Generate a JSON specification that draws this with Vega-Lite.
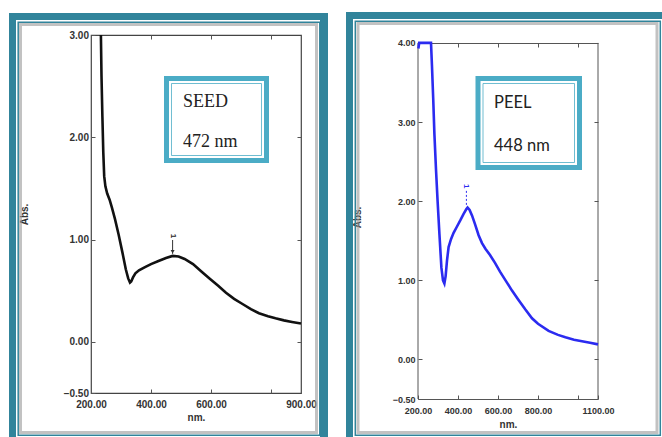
{
  "$schema": "https://vega.github.io/schema/vega-lite/v6.json",
  "background": "white",
  "padding": {"left": 8, "top": 11, "right": 0, "bottom": 0},
  "spacing": 17,
  "config": {
    "view": {"stroke": null},
    "axis": {"grid": false, "labelFont": "Liberation Sans", "labelFontWeight": "bold", "labelColor": "#333", "titleFont": "Liberation Sans", "titleFontWeight": "bold", "titleColor": "#333", "titleFontSize": 10, "labelFlush": false, "labelOverlap": false, "tickColor": "#555", "domainColor": "#555", "tickSize": -4}
  },
  "datasets": {
    "seed": [
      {"wl": 233, "abs": 3.0}, {"wl": 235, "abs": 2.6}, {"wl": 238, "abs": 2.2}, {"wl": 241, "abs": 1.85},
      {"wl": 244, "abs": 1.62}, {"wl": 248, "abs": 1.52}, {"wl": 254, "abs": 1.45}, {"wl": 262, "abs": 1.39},
      {"wl": 270, "abs": 1.31}, {"wl": 280, "abs": 1.2}, {"wl": 292, "abs": 1.05}, {"wl": 305, "abs": 0.87},
      {"wl": 316, "abs": 0.71}, {"wl": 324, "abs": 0.62}, {"wl": 330, "abs": 0.58}, {"wl": 334, "abs": 0.59},
      {"wl": 340, "abs": 0.63}, {"wl": 348, "abs": 0.67}, {"wl": 360, "abs": 0.7}, {"wl": 380, "abs": 0.73},
      {"wl": 400, "abs": 0.76}, {"wl": 425, "abs": 0.79}, {"wl": 450, "abs": 0.82}, {"wl": 472, "abs": 0.84},
      {"wl": 492, "abs": 0.835}, {"wl": 512, "abs": 0.81}, {"wl": 540, "abs": 0.76}, {"wl": 567, "abs": 0.69},
      {"wl": 595, "abs": 0.62}, {"wl": 623, "abs": 0.55}, {"wl": 650, "abs": 0.48}, {"wl": 677, "abs": 0.42},
      {"wl": 705, "abs": 0.37}, {"wl": 733, "abs": 0.32}, {"wl": 760, "abs": 0.28}, {"wl": 790, "abs": 0.25},
      {"wl": 815, "abs": 0.23}, {"wl": 843, "abs": 0.21}, {"wl": 870, "abs": 0.195}, {"wl": 900, "abs": 0.18}
    ],
    "peel": [
      {"wl": 202, "abs": 3.93}, {"wl": 206, "abs": 4.0}, {"wl": 265, "abs": 4.0}, {"wl": 270, "abs": 3.7},
      {"wl": 276, "abs": 3.3}, {"wl": 282, "abs": 2.85}, {"wl": 290, "abs": 2.4}, {"wl": 298, "abs": 2.0},
      {"wl": 307, "abs": 1.59}, {"wl": 317, "abs": 1.16}, {"wl": 325, "abs": 1.0}, {"wl": 332, "abs": 0.96},
      {"wl": 338, "abs": 1.05}, {"wl": 345, "abs": 1.25}, {"wl": 353, "abs": 1.42}, {"wl": 365, "abs": 1.52},
      {"wl": 378, "abs": 1.6}, {"wl": 395, "abs": 1.68}, {"wl": 412, "abs": 1.76}, {"wl": 428, "abs": 1.84},
      {"wl": 442, "abs": 1.9}, {"wl": 448, "abs": 1.92}, {"wl": 458, "abs": 1.89}, {"wl": 470, "abs": 1.82},
      {"wl": 485, "abs": 1.71}, {"wl": 503, "abs": 1.57}, {"wl": 520, "abs": 1.47}, {"wl": 537, "abs": 1.4},
      {"wl": 560, "abs": 1.32}, {"wl": 585, "abs": 1.22}, {"wl": 610, "abs": 1.11}, {"wl": 640, "abs": 0.99},
      {"wl": 670, "abs": 0.87}, {"wl": 700, "abs": 0.76}, {"wl": 737, "abs": 0.63}, {"wl": 770, "abs": 0.52},
      {"wl": 800, "abs": 0.45}, {"wl": 853, "abs": 0.36}, {"wl": 900, "abs": 0.31}, {"wl": 937, "abs": 0.28},
      {"wl": 980, "abs": 0.25}, {"wl": 1020, "abs": 0.23}, {"wl": 1060, "abs": 0.21}, {"wl": 1100, "abs": 0.19}
    ]
  },
  "hconcat": [
    {
      "width": 210,
      "height": 358,
      "view": {"stroke": "#444", "strokeWidth": 1.2},
      "resolve": {"axis": {"x": "independent", "y": "independent"}},
      "layer": [
        {"data": {"values": [{}]}, "mark": {"type": "rect", "fill": "#31849B"},
         "encoding": {"x": {"datum": -73.33, "type": "quantitative", "axis": null}, "x2": {"datum": -50}, "y": {"datum": 3.2151, "type": "quantitative", "axis": null}, "y2": {"datum": -0.9399}}},
        {"data": {"values": [{}]}, "mark": {"type": "rect", "fill": "#31849B"},
         "encoding": {"x": {"datum": -73.33, "type": "quantitative", "axis": null}, "x2": {"datum": 990}, "y": {"datum": 3.2151, "type": "quantitative", "axis": null}, "y2": {"datum": 3.1466}}},
        {"data": {"values": [{}]}, "mark": {"type": "rect", "fill": "#31849B"},
         "encoding": {"x": {"datum": 963.33, "type": "quantitative", "axis": null}, "x2": {"datum": 990}, "y": {"datum": 3.2151, "type": "quantitative", "axis": null}, "y2": {"datum": -0.9399}}},
        {"data": {"values": [{}]}, "mark": {"type": "rect", "fill": null, "stroke": "#31849B", "strokeWidth": 1.5},
         "encoding": {"x": {"datum": -42.67, "type": "quantitative", "axis": null}, "x2": {"datum": 962.67}, "y": {"datum": 3.1242, "type": "quantitative", "axis": null}, "y2": {"datum": -0.9126}}},
        {"data": {"values": [{}]}, "mark": {"type": "rect", "fill": null, "stroke": "#9a9a9a", "strokeWidth": 3, "strokeOpacity": 0.6},
         "encoding": {"x": {"datum": -35, "type": "quantitative", "axis": null}, "x2": {"datum": 951.67}, "y": {"datum": 3.1027, "type": "quantitative", "axis": null}, "y2": {"datum": -0.8862}}},
        {"data": {"values": [{}]}, "mark": {"type": "rect", "fill": "white", "stroke": "#4BACC6", "strokeWidth": 5},
         "encoding": {"x": {"datum": 451.67, "type": "quantitative", "axis": null}, "x2": {"datum": 785}, "y": {"datum": 2.5747, "type": "quantitative", "axis": null}, "y2": {"datum": 1.7731}}},
        {"data": {"values": [{}]}, "mark": {"type": "rect", "fill": null, "stroke": "#4BACC6", "strokeWidth": 1, "strokeOpacity": 0.8},
         "encoding": {"x": {"datum": 468.33, "type": "quantitative", "axis": null}, "x2": {"datum": 768.33}, "y": {"datum": 2.5258, "type": "quantitative", "axis": null}, "y2": {"datum": 1.8219}}},
        {"data": {"values": [{}]}, "mark": {"type": "text", "font": "Liberation Serif", "fontSize": 18, "align": "left", "baseline": "alphabetic", "color": "#222"},
         "encoding": {"x": {"datum": 506.67, "type": "quantitative", "axis": null}, "y": {"datum": 2.2961, "type": "quantitative", "axis": null}, "text": {"value": "SEED"}}},
        {"data": {"values": [{}]}, "mark": {"type": "text", "font": "Liberation Serif", "fontSize": 18, "align": "left", "baseline": "alphabetic", "color": "#222"},
         "encoding": {"x": {"datum": 506.67, "type": "quantitative", "axis": null}, "y": {"datum": 1.905, "type": "quantitative", "axis": null}, "text": {"value": "472 nm"}}},
        {"data": {"values": [{}]}, "mark": {"type": "text", "font": "Liberation Sans", "fontSize": 8, "fontWeight": "bold", "angle": 90, "color": "#222"},
         "encoding": {"x": {"datum": 472, "type": "quantitative", "axis": null}, "y": {"datum": 1.035, "type": "quantitative", "axis": null}, "text": {"value": "1"}}},
        {"data": {"values": [{}]}, "mark": {"type": "rule", "color": "#333", "strokeWidth": 1},
         "encoding": {"x": {"datum": 472, "type": "quantitative", "axis": null}, "y": {"datum": 0.9958, "type": "quantitative", "axis": null}, "y2": {"datum": 0.86}}},
        {"data": {"values": [{}]}, "mark": {"type": "point", "shape": "triangle-down", "filled": true, "size": 16, "color": "#333", "opacity": 1},
         "encoding": {"x": {"datum": 472, "type": "quantitative", "axis": null}, "y": {"datum": 0.88, "type": "quantitative", "axis": null}}},
        {"data": {"name": "seed"}, "mark": {"type": "line", "color": "#111", "strokeWidth": 2.6},
         "encoding": {
           "x": {"field": "wl", "type": "quantitative", "scale": {"domain": [200, 900], "nice": false, "zero": false},
                 "axis": {"orient": "bottom", "title": "nm.", "values": [200, 400, 600, 800, 900], "labelExpr": "datum.value == 800 ? '' : format(datum.value, '.2f')", "labelFontSize": 10, "labelPadding": 10, "titlePadding": 3, "domain": false}},
           "y": {"field": "abs", "type": "quantitative", "scale": {"domain": [-0.5, 3.0], "nice": false, "zero": false},
                 "axis": {"orient": "left", "title": "Abs.", "values": [-0.5, 0, 1, 2, 3], "format": ".2f", "labelFontSize": 10, "labelPadding": 6.5, "titlePadding": 34, "domain": false}}
         }},
        {"data": {"name": "seed"}, "mark": {"type": "line", "opacity": 0},
         "encoding": {
           "x": {"field": "wl", "type": "quantitative", "axis": {"orient": "top", "title": null, "labels": false, "values": [400, 600, 800], "domain": false}},
           "y": {"field": "abs", "type": "quantitative", "axis": {"orient": "right", "title": null, "labels": false, "values": [0, 1, 2], "domain": false}}
         }}
      ]
    },
    {
      "width": 180,
      "height": 364,
      "view": {"stroke": null},
      "resolve": {"axis": {"x": "independent", "y": "independent"}},
      "layer": [
        {"data": {"values": [{}]}, "mark": {"type": "rect", "fill": "#31849B"},
         "encoding": {"x": {"datum": -160, "type": "quantitative", "axis": null}, "x2": {"datum": -125}, "y": {"datum": 4.3907, "type": "quantitative", "axis": null}, "y2": {"datum": -0.9929}}},
        {"data": {"values": [{}]}, "mark": {"type": "rect", "fill": "#31849B"},
         "encoding": {"x": {"datum": -160, "type": "quantitative", "axis": null}, "x2": {"datum": 1430}, "y": {"datum": 4.3907, "type": "quantitative", "axis": null}, "y2": {"datum": 4.3022}}},
        {"data": {"values": [{}]}, "mark": {"type": "rect", "fill": "#4a9db3"},
         "encoding": {"x": {"datum": 1420, "type": "quantitative", "axis": null}, "x2": {"datum": 1430}, "y": {"datum": 4.3907, "type": "quantitative", "axis": null}, "y2": {"datum": -0.9929}}},
        {"data": {"values": [{}]}, "mark": {"type": "rect", "fill": null, "stroke": "#31849B", "strokeWidth": 1.5},
         "encoding": {"x": {"datum": -113.5, "type": "quantitative", "axis": null}, "x2": {"datum": 1411.5}, "y": {"datum": 4.2731, "type": "quantitative", "axis": null}, "y2": {"datum": -0.9575}}},
        {"data": {"values": [{}]}, "mark": {"type": "rect", "fill": null, "stroke": "#9a9a9a", "strokeWidth": 3, "strokeOpacity": 0.6},
         "encoding": {"x": {"datum": -100, "type": "quantitative", "axis": null}, "x2": {"datum": 1395}, "y": {"datum": 4.2453, "type": "quantitative", "axis": null}, "y2": {"datum": -0.9234}}},
        {"data": {"values": [{}]}, "mark": {"type": "rect", "fill": "white", "stroke": "#4BACC6", "strokeWidth": 5},
         "encoding": {"x": {"datum": 500, "type": "quantitative", "axis": null}, "x2": {"datum": 1007.5}, "y": {"datum": 3.5503, "type": "quantitative", "axis": null}, "y2": {"datum": 2.4255}}},
        {"data": {"values": [{}]}, "mark": {"type": "rect", "fill": null, "stroke": "#4BACC6", "strokeWidth": 1, "strokeOpacity": 0.8},
         "encoding": {"x": {"datum": 525, "type": "quantitative", "axis": null}, "x2": {"datum": 982.5}, "y": {"datum": 3.4871, "type": "quantitative", "axis": null}, "y2": {"datum": 2.4887}}},
        {"data": {"values": [{}]}, "mark": {"type": "text", "font": "Lato", "fontSize": 16.5, "align": "left", "baseline": "alphabetic", "color": "#222"},
         "encoding": {"x": {"datum": 580, "type": "quantitative", "axis": null}, "y": {"datum": 3.1775, "type": "quantitative", "axis": null}, "text": {"value": "PEEL"}}},
        {"data": {"values": [{}]}, "mark": {"type": "text", "font": "Lato", "fontSize": 16.5, "align": "left", "baseline": "alphabetic", "color": "#222"},
         "encoding": {"x": {"datum": 580, "type": "quantitative", "axis": null}, "y": {"datum": 2.6341, "type": "quantitative", "axis": null}, "text": {"value": "448 nm"}}},
        {"data": {"values": [{}]}, "mark": {"type": "text", "font": "Liberation Sans", "fontSize": 8, "fontWeight": "bold", "angle": 90, "color": "#2b2bf0"},
         "encoding": {"x": {"datum": 442, "type": "quantitative", "axis": null}, "y": {"datum": 2.19, "type": "quantitative", "axis": null}, "text": {"value": "1"}}},
        {"data": {"values": [{}]}, "mark": {"type": "rule", "color": "#2b2bf0", "strokeWidth": 1, "strokeDash": [2, 2]},
         "encoding": {"x": {"datum": 442, "type": "quantitative", "axis": null}, "y": {"datum": 2.13, "type": "quantitative", "axis": null}, "y2": {"datum": 1.94}}},
        {"data": {"values": [{}]}, "mark": {"type": "rule", "color": "#555", "strokeWidth": 1},
         "encoding": {"x": {"datum": 200, "type": "quantitative", "axis": null}, "y": {"datum": -0.5, "type": "quantitative", "axis": null}, "y2": {"datum": 4.0}}},
        {"data": {"values": [{}]}, "mark": {"type": "rule", "color": "#555", "strokeWidth": 1},
         "encoding": {"x": {"datum": 1100, "type": "quantitative", "axis": null}, "y": {"datum": -0.5, "type": "quantitative", "axis": null}, "y2": {"datum": 4.0}}},
        {"data": {"name": "peel"}, "mark": {"type": "line", "color": "#2b2bf0", "strokeWidth": 2.6},
         "encoding": {
           "x": {"field": "wl", "type": "quantitative", "scale": {"domain": [200, 1100], "nice": false, "zero": false},
                 "axis": {"orient": "bottom", "title": "nm.", "values": [200, 400, 600, 800, 1000, 1100], "labelExpr": "datum.value == 1000 ? '' : format(datum.value, '.2f')", "labelFontSize": 9, "labelPadding": 11.5, "titlePadding": 4, "domain": true}},
           "y": {"field": "abs", "type": "quantitative", "scale": {"domain": [-0.5, 4.1], "nice": false, "zero": false},
                 "axis": {"orient": "left", "title": "Abs.", "values": [-0.5, 0, 1, 2, 3, 4], "format": ".2f", "labelFontSize": 9, "labelPadding": 7, "titlePadding": 30, "domain": false}}
         }},
        {"data": {"name": "peel"}, "mark": {"type": "line", "opacity": 0},
         "encoding": {
           "x": {"field": "wl", "type": "quantitative", "axis": {"orient": "top", "title": null, "labels": false, "values": [400, 600, 800, 1000], "domain": true, "offset": -8}},
           "y": {"field": "abs", "type": "quantitative", "axis": {"orient": "right", "title": null, "labels": false, "values": [0, 1, 2, 3], "domain": false}}
         }}
      ]
    }
  ]
}
